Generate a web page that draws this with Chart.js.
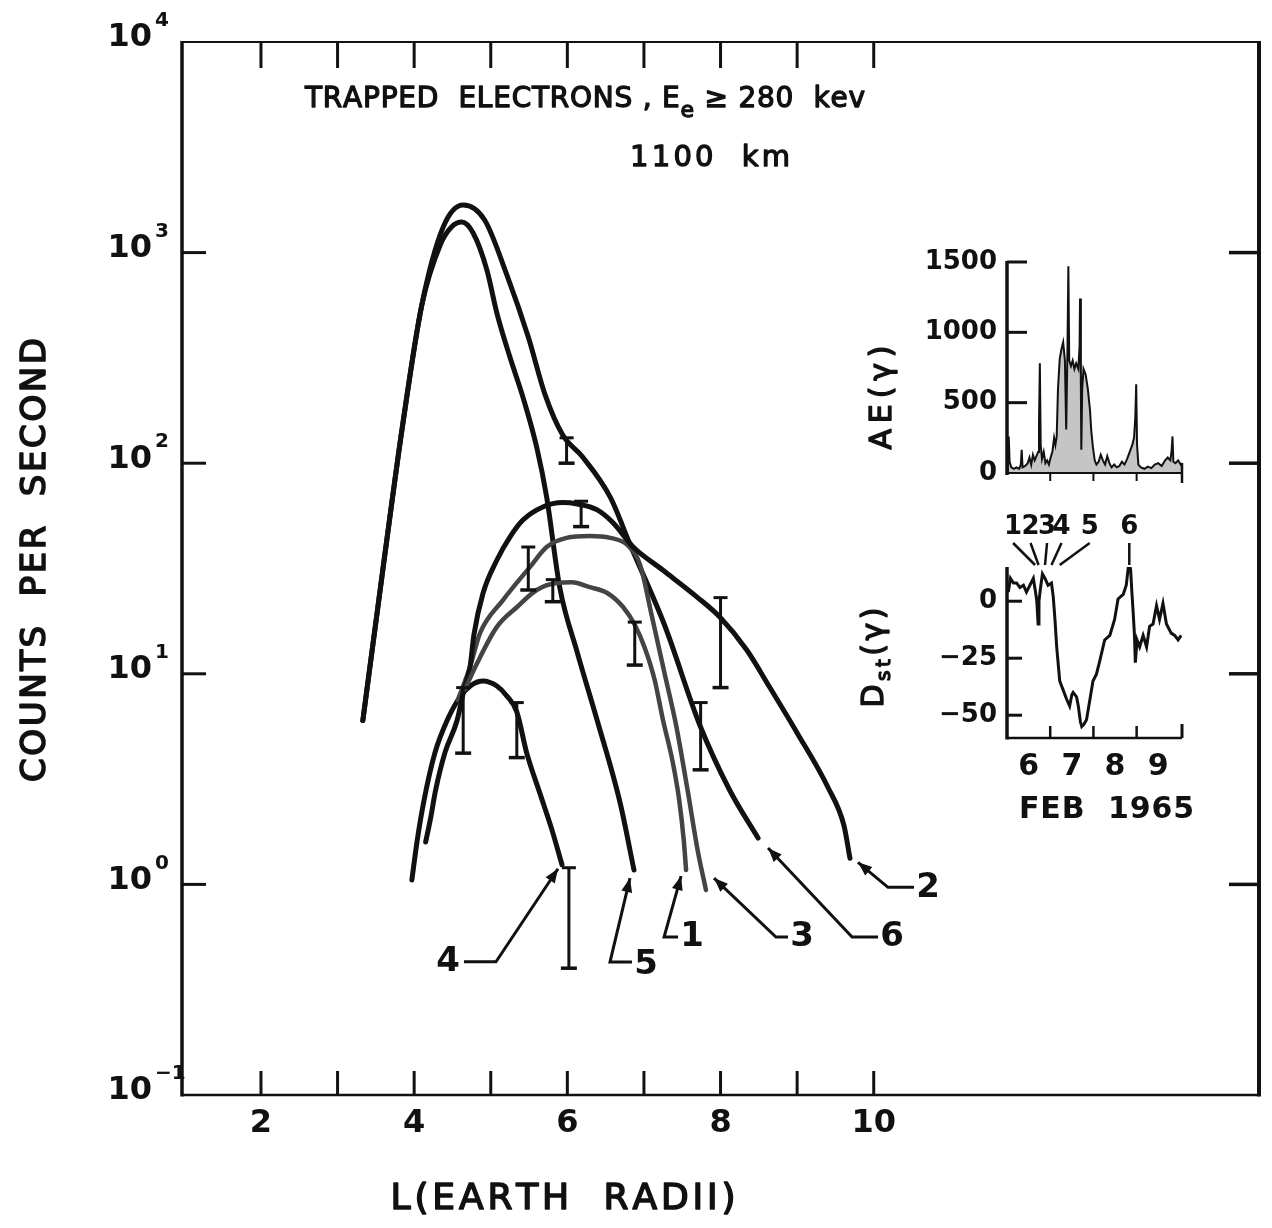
<!DOCTYPE html>
<html lang="en">
<head>
<meta charset="utf-8">
<title>Trapped electrons, 1100 km</title>
<script src="https://cdn.jsdelivr.net/npm/chart.js@4.4.1/dist/chart.umd.min.js"></script>
<style>
  html, body { margin: 0; background: #fff; }
  #wrap { position: relative; width: 1272px; height: 1228px; overflow: hidden; }
  #wrap canvas { position: absolute; }
</style>
</head>
<body>
<div id="wrap">
  <canvas id="main" width="1272" height="1228" style="left:0;top:0"></canvas>
  <canvas id="ae" width="420" height="290" style="left:840px;top:220px"></canvas>
  <canvas id="dst" width="420" height="330" style="left:840px;top:505px"></canvas>
</div>
<script>
const INK = '#111';
const GREY = '#444';
const FONT = '"DejaVu Sans", "Liberation Sans", sans-serif';

// count rate against L, one profile per pass (1..6)
const curve1L = [4.66, 4.82, 5.08, 5.34, 5.60, 5.86, 6.06, 6.29, 6.52, 6.73, 6.88, 7.01, 7.14, 7.25, 7.37, 7.46, 7.52, 7.55];
const curve1Rate = [8.4, 11.2, 16.7, 20.7, 25, 27, 27.2, 25.8, 24.2, 20.7, 17.1, 13.3, 9.35, 6.0, 3.9, 2.52, 1.62, 1.17];

const curve2L = [4.15, 4.21, 4.28, 4.40, 4.56, 4.65, 4.73, 4.78, 4.90, 5.08, 5.25, 5.42, 5.68, 5.94, 6.13, 6.39, 6.60, 6.86, 7.25, 7.69, 7.99, 8.34, 8.64, 9.00, 9.40, 9.61, 9.69];
const curve2Rate = [1.59, 2.02, 2.8, 4.2, 6.0, 8.4, 10.8, 15.3, 24.2, 34.7, 44.6, 53.7, 62, 65, 64, 60, 52, 40, 31, 23.2, 18.6, 13, 8.65, 5.24, 2.9, 1.91, 1.33];

const curve3L = [4.57, 4.73, 4.86, 5.16, 5.51, 5.73, 5.99, 6.29, 6.56, 6.78, 6.95, 7.10, 7.26, 7.42, 7.57, 7.70, 7.81];
const curve3Rate = [7.5, 10.8, 15.6, 22.4, 32.1, 40, 44.2, 45.1, 44.2, 41, 32.9, 19, 10.4, 5.7, 2.8, 1.46, 0.94];

const curve4L = [3.97, 4.04, 4.13, 4.27, 4.43, 4.60, 4.75, 4.90, 5.08, 5.21, 5.34, 5.47, 5.64, 5.80, 5.93];
const curve4Rate = [1.05, 1.62, 2.52, 4.2, 6.0, 7.77, 8.85, 9.25, 8.75, 7.85, 6.6, 4.2, 2.72, 1.81, 1.24];

const curve5L = [3.33, 3.59, 3.85, 4.10, 4.34, 4.49, 4.62, 4.77, 4.95, 5.08, 5.25, 5.42, 5.60, 5.73, 5.90, 6.13, 6.39, 6.69, 6.87];
const curve5Rate = [6.0, 31, 152, 564, 1087, 1325, 1396, 1239, 826, 516, 319, 206, 119, 69, 25.8, 12.6, 6.0, 2.43, 1.17];

const curve6L = [3.33, 3.59, 3.85, 4.10, 4.38, 4.64, 4.92, 5.21, 5.49, 5.71, 5.94, 6.20, 6.56, 6.82, 7.27, 7.73, 8.12, 8.49];
const curve6Rate = [6.0, 31, 152, 564, 1325, 1683, 1428, 783, 397, 211, 136, 107, 69, 41, 17, 5.7, 2.8, 1.66];

const curveL = [curve1L, curve2L, curve3L, curve4L, curve5L, curve6L];
const curveRate = [curve1Rate, curve2Rate, curve3Rate, curve4Rate, curve5Rate, curve6Rate];

// error bars on the profiles
const errL = [5.99, 6.18, 5.49, 6.88, 8.00, 4.64, 5.34, 7.74, 6.02, 5.81];
const errLow = [100, 50, 25, 11, 8.6, 4.2, 4.0, 3.5, 0.4, 22];
const errHigh = [132, 66, 40, 17.6, 23, 8.6, 7.3, 7.3, 1.2, 28];

const lTicks = [2, 3, 4, 5, 6, 7, 8, 9, 10];
const lLabels = [2, 4, 6, 8, 10];
const yTicks = [0.1, 1, 10, 100, 1000, 10000];

// AE index, Feb 6-9 1965 (day of month, gammas)
const aeDay = [6.00, 6.02, 6.04, 6.06, 6.10, 6.16, 6.22, 6.28, 6.32, 6.34, 6.36, 6.42, 6.48, 6.52, 6.56, 6.60, 6.64, 6.68, 6.72, 6.74, 6.76, 6.78, 6.81, 6.85, 6.89, 6.93, 6.97, 7.01, 7.05, 7.09, 7.12, 7.15, 7.18, 7.22, 7.26, 7.30, 7.34, 7.37, 7.40, 7.42, 7.44, 7.48, 7.52, 7.56, 7.60, 7.65, 7.68, 7.69, 7.71, 7.72, 7.74, 7.77, 7.82, 7.87, 7.92, 7.95, 7.99, 8.03, 8.07, 8.12, 8.17, 8.22, 8.27, 8.32, 8.37, 8.42, 8.48, 8.54, 8.60, 8.66, 8.72, 8.78, 8.84, 8.90, 8.94, 8.97, 8.99, 9.01, 9.04, 9.10, 9.18, 9.26, 9.34, 9.42, 9.50, 9.58, 9.66, 9.72, 9.78, 9.81, 9.83, 9.85, 9.90, 9.96, 10.02, 10.05];
const aeValue = [0, 150, 260, 80, 40, 30, 40, 30, 60, 165, 40, 50, 70, 110, 60, 130, 90, 120, 150, 330, 780, 200, 100, 150, 70, 90, 60, 110, 150, 250, 200, 260, 600, 810, 880, 930, 800, 310, 900, 1470, 800, 760, 800, 740, 780, 740, 900, 1240, 600, 165, 600, 740, 700, 600, 450, 300, 180, 90, 60, 80, 130, 90, 60, 120, 70, 40, 60, 40, 50, 80, 60, 100, 150, 200, 250, 400, 630, 200, 60, 40, 30, 45, 35, 60, 70, 50, 90, 110, 90, 160, 260, 80, 70, 90, 60, 70];
const aeTicks = [0, 500, 1000, 1500];

// Dst index over the same interval
const dstDay = [6.03, 6.08, 6.15, 6.22, 6.30, 6.38, 6.45, 6.53, 6.61, 6.66, 6.69, 6.72, 6.74, 6.77, 6.82, 6.88, 6.95, 7.03, 7.07, 7.11, 7.15, 7.22, 7.30, 7.38, 7.45, 7.50, 7.53, 7.61, 7.65, 7.70, 7.73, 7.78, 7.84, 7.92, 7.99, 8.07, 8.15, 8.26, 8.38, 8.49, 8.57, 8.69, 8.76, 8.82, 8.86, 8.89, 8.92, 8.95, 8.97, 9.01, 9.07, 9.15, 9.23, 9.30, 9.38, 9.46, 9.53, 9.61, 9.69, 9.80, 9.88, 9.96, 10.03];
const dstValue = [4, 10, 8, 8, 6, 7, 4, 7, 10, 4, 0, -10, 0, 5, 12, 10, 7, 8, 2, -8, -20, -35, -39, -43, -46, -41, -40, -42, -46, -53, -55, -54, -52, -43, -35, -32, -26, -17, -15, -8, 1, 3, 7, 17, 14, 4, -5, -15, -27, -17, -20, -15, -20, -11, -10, -2, -8, -1, -10, -14, -15, -17, -15];
const dstTicks = [0, -25, -50];

// times of passes 1-6
const passDay = [6.65, 6.73, 6.88, 7.03, 7.22, 8.83];
const passNames = ['1', '2', '3', '4', '5', '6'];

const dayTicks = [7, 8, 9];
const dayLabels = [6, 7, 8, 9];

// curve-end call-outs: pixel offsets from the last point of each curve
const callouts = [
  { text: '1', label: [6, 67], corner: [-22, 67], tip: [-5, 6] },
  { text: '2', label: [78, 30], corner: [38, 29], tip: [8, 4] },
  { text: '3', label: [96, 47], corner: [70, 47], tip: [8, -12] },
  { text: '4', label: [-114, 97], corner: [-66, 97], tip: [-4, 4] },
  { text: '5', label: [12, 95], corner: [-24, 92], tip: [-4, 8] },
  { text: '6', label: [134, 99], corner: [94, 99], tip: [10, 10] }
];
// pass label positions relative to the pass time
const passLabelDx = [-22, -8, 2, 10, 30, 0];

function font(size, bold) {
  return (bold ? 'bold ' : '') + size + 'px ' + FONT;
}

function line(ctx, x1, y1, x2, y2, w) {
  ctx.lineWidth = w;
  ctx.beginPath();
  ctx.moveTo(x1, y1);
  ctx.lineTo(x2, y2);
  ctx.stroke();
}

// letters spread evenly over a given width, centred on (cx, cy);
// weight > 0 thickens the strokes a little
function spacedText(ctx, parts, cx, cy, width, weight) {
  const chars = [];
  parts.forEach(p => {
    ctx.font = p.f;
    for (const ch of p.t) chars.push({ ch, f: p.f, dy: p.dy || 0, w: ctx.measureText(ch).width });
  });
  const natural = chars.reduce((s, c) => s + c.w, 0);
  const gap = chars.length > 1 ? (width - natural) / (chars.length - 1) : 0;
  let x = cx - width / 2;
  ctx.textAlign = 'left';
  ctx.textBaseline = 'middle';
  ctx.lineJoin = 'round';
  chars.forEach(c => {
    ctx.font = c.f;
    ctx.fillText(c.ch, x, cy + c.dy);
    if (weight) {
      ctx.lineWidth = weight;
      ctx.strokeText(c.ch, x, cy + c.dy);
    }
    x += c.w + gap;
  });
}

function arrowHead(ctx, fx, fy, tx, ty) {
  const ang = Math.atan2(ty - fy, tx - fx), len = 14, half = 5.5;
  const bx = tx - len * Math.cos(ang), by = ty - len * Math.sin(ang);
  ctx.beginPath();
  ctx.moveTo(tx, ty);
  ctx.lineTo(bx + half * Math.sin(ang), by - half * Math.cos(ang));
  ctx.lineTo(bx - half * Math.sin(ang), by + half * Math.cos(ang));
  ctx.closePath();
  ctx.fill();
}

const mainDecor = {
  id: 'mainDecor',
  afterDatasetsDraw(chart) {
    const { ctx, chartArea: a } = chart;
    const x = chart.scales.x, y = chart.scales.y;
    ctx.save();
    ctx.strokeStyle = INK;
    ctx.fillStyle = INK;

    // frame
    line(ctx, a.left, a.top, a.right, a.top, 2);
    line(ctx, a.left, a.bottom, a.right, a.bottom, 2.5);
    line(ctx, a.left, a.top - 1, a.left, a.bottom + 1.5, 3.5);
    line(ctx, a.right, a.top - 1, a.right, a.bottom + 1.5, 4);

    // L ticks top and bottom
    lTicks.forEach(v => {
      const px = x.getPixelForValue(v);
      line(ctx, px, a.bottom, px, a.bottom - 24, 3);
      line(ctx, px, a.top, px, a.top + 26, 3);
    });
    // decade ticks on both sides
    yTicks.forEach(v => {
      if (v <= y.min || v >= y.max) return;
      const py = y.getPixelForValue(v);
      line(ctx, a.left, py, a.left + 24, py, 3);
      line(ctx, a.right, py, a.right - 30, py, 3.5);
    });

    // 10^n labels
    ctx.textBaseline = 'middle';
    yTicks.forEach(v => {
      const py = y.getPixelForValue(v);
      const exp = Math.round(Math.log10(v));
      ctx.font = font(32, true);
      ctx.textAlign = 'right';
      ctx.fillText('10', a.left - 30, py - 4);
      ctx.font = font(20, true);
      ctx.textAlign = 'left';
      ctx.fillText(exp < 0 ? '\u2212' + (-exp) : String(exp), a.left - 27, py - 21);
    });
    ctx.font = font(32, true);
    ctx.textAlign = 'center';
    lLabels.forEach(v => ctx.fillText(String(v), x.getPixelForValue(v), a.bottom + 29));

    // error bars
    errL.forEach((L, i) => {
      const px = x.getPixelForValue(L);
      const lo = y.getPixelForValue(errLow[i]);
      const hi = y.getPixelForValue(errHigh[i]);
      line(ctx, px, hi, px, lo, 3);
      line(ctx, px - 7, hi, px + 7, hi, 3);
      line(ctx, px - 8, lo, px + 8, lo, 3.5);
    });

    // curve numbers with leaders
    callouts.forEach((c, i) => {
      const Ls = curveL[i], R = curveRate[i];
      const ex = x.getPixelForValue(Ls[Ls.length - 1]);
      const ey = y.getPixelForValue(R[R.length - 1]);
      const lx = ex + c.label[0], ly = ey + c.label[1];
      const cx = ex + c.corner[0], cy = ey + c.corner[1];
      const tx = ex + c.tip[0], ty = ey + c.tip[1];
      const side = lx > cx ? lx - 14 : lx + 16;
      ctx.lineWidth = 3;
      ctx.beginPath();
      ctx.moveTo(side, cy);
      ctx.lineTo(cx, cy);
      ctx.lineTo(tx, ty);
      ctx.stroke();
      arrowHead(ctx, cx, cy, tx, ty);
      ctx.font = font(34, true);
      ctx.textAlign = 'center';
      ctx.textBaseline = 'middle';
      ctx.fillText(c.text, lx, ly);
    });

    // headings
    spacedText(ctx, [
      { t: 'TRAPPED  ELECTRONS , E', f: font(28) },
      { t: 'e', f: font(22), dy: 11 },
      { t: ' \u2265 280  kev', f: font(28) }
    ], 585, 100, 560, 1.3);
    spacedText(ctx, [{ t: '1100  km', f: font(29) }], 710, 158, 160, 1.3);
    spacedText(ctx, [{ t: 'L(EARTH  RADII)', f: font(36) }], 563, 1200, 345, 1.6);

    ctx.save();
    ctx.translate(36, 560);
    ctx.rotate(-Math.PI / 2);
    spacedText(ctx, [{ t: 'COUNTS  PER  SECOND', f: font(34) }], 0, 0, 444, 1.6);
    ctx.restore();

    ctx.restore();
  }
};

new Chart(document.getElementById('main'), {
  type: 'line',
  data: {
    datasets: curveL.map((Ls, i) => ({
      label: 'Pass ' + (i + 1),
      data: Ls.map((L, j) => ({ x: L, y: curveRate[i][j] })),
      borderColor: (i === 0 || i === 2) ? GREY : INK,
      borderWidth: (i === 0 || i === 2) ? 4.5 : 5,
      borderCapStyle: 'round',
      borderJoinStyle: 'round',
      pointRadius: 0,
      cubicInterpolationMode: 'monotone',
      fill: false
    }))
  },
  options: {
    responsive: false,
    animation: false,
    devicePixelRatio: 1,
    events: [],
    layout: { padding: { left: 182, right: 13, top: 42, bottom: 133 } },
    scales: {
      x: { type: 'linear', min: 0.969, max: 15.03, display: false },
      y: { type: 'logarithmic', min: 0.1, max: 10000, display: false }
    },
    plugins: { legend: { display: false }, tooltip: { enabled: false } }
  },
  plugins: [mainDecor]
});

// AE inset
const aeDecor = {
  id: 'aeDecor',
  afterDatasetsDraw(chart) {
    const { ctx, chartArea: a } = chart;
    const x = chart.scales.x, y = chart.scales.y;
    ctx.save();
    ctx.strokeStyle = INK;
    ctx.fillStyle = INK;
    const y0 = y.getPixelForValue(0);
    line(ctx, a.left, a.top - 1, a.left, y0 + 2, 3.5);
    line(ctx, a.left, y0, a.right, y0, 2);
    aeTicks.forEach(v => {
      const py = y.getPixelForValue(v);
      if (v > 0) line(ctx, a.left, py, a.left + 20, py, 3);
      ctx.font = font(26, true);
      ctx.textAlign = 'right';
      ctx.textBaseline = 'middle';
      ctx.fillText(String(v), a.left - 10, py);
    });
    dayTicks.forEach(d => {
      const px = x.getPixelForValue(d);
      line(ctx, px, y0, px, y0 + 8, 2);
    });
    line(ctx, a.right, y0 - 10, a.right, y0 + 10, 2.5);

    ctx.save();
    ctx.translate(43, (a.top + a.bottom) / 2 + 30);
    ctx.rotate(-Math.PI / 2);
    spacedText(ctx, [{ t: 'AE(\u03b3)', f: font(30) }], 0, 0, 104, 1.4);
    ctx.restore();
    ctx.restore();
  }
};

new Chart(document.getElementById('ae'), {
  type: 'line',
  data: {
    datasets: [{
      label: 'AE',
      data: aeDay.map((d, i) => ({ x: d, y: aeValue[i] })),
      borderColor: INK,
      borderWidth: 2,
      backgroundColor: 'rgba(140,140,140,0.5)',
      fill: 'origin',
      pointRadius: 0,
      tension: 0
    }]
  },
  options: {
    responsive: false,
    animation: false,
    devicePixelRatio: 1,
    events: [],
    layout: { padding: { left: 167, right: 78, top: 42, bottom: 37 } },
    scales: {
      x: { type: 'linear', min: 6, max: 10.05, display: false },
      y: { type: 'linear', min: 0, max: 1500, display: false }
    },
    plugins: { legend: { display: false }, tooltip: { enabled: false } }
  },
  plugins: [aeDecor]
});

// Dst inset
const dstDecor = {
  id: 'dstDecor',
  afterDatasetsDraw(chart) {
    const { ctx, chartArea: a } = chart;
    const x = chart.scales.x, y = chart.scales.y;
    ctx.save();
    ctx.strokeStyle = INK;
    ctx.fillStyle = INK;
    line(ctx, a.left, a.top, a.left, a.bottom + 1.5, 3.5);
    line(ctx, a.left, a.bottom, a.right, a.bottom, 2.5);
    dstTicks.forEach(v => {
      const py = y.getPixelForValue(v);
      line(ctx, a.left, py, a.left + 15, py, 3);
      ctx.font = font(26, true);
      ctx.textAlign = 'right';
      ctx.textBaseline = 'middle';
      ctx.fillText(v < 0 ? '\u2212' + (-v) : String(v), a.left - 10, py);
    });
    dayTicks.forEach(d => {
      const px = x.getPixelForValue(d);
      line(ctx, px, a.bottom, px, a.bottom - 12, 2.5);
    });
    line(ctx, a.right, a.bottom, a.right, a.bottom - 14, 3);

    ctx.font = font(30, true);
    ctx.textAlign = 'center';
    ctx.textBaseline = 'middle';
    dayLabels.forEach(d => ctx.fillText(String(d), x.getPixelForValue(d + 0.5), a.bottom + 29));
    spacedText(ctx, [{ t: 'FEB  1965', f: font(30, true) }], (a.left + a.right) / 2 + 12, a.bottom + 72, 175);

    // pass markers
    passDay.forEach((d, i) => {
      const px = x.getPixelForValue(d);
      const lx = px + passLabelDx[i];
      line(ctx, lx, a.top - 24, px, a.top - 2, 2.5);
      ctx.font = font(26, true);
      ctx.textAlign = 'center';
      ctx.textBaseline = 'middle';
      ctx.fillText(passNames[i], lx, a.top - 40);
    });

    ctx.save();
    ctx.translate(35, (a.top + a.bottom) / 2 + 5);
    ctx.rotate(-Math.PI / 2);
    spacedText(ctx, [
      { t: 'D', f: font(30) },
      { t: 'st', f: font(20), dy: 10 },
      { t: '(\u03b3)', f: font(30) }
    ], 0, 0, 100, 1.4);
    ctx.restore();
    ctx.restore();
  }
};

new Chart(document.getElementById('dst'), {
  type: 'line',
  data: {
    datasets: [{
      label: 'Dst',
      data: dstDay.map((d, i) => ({ x: d, y: dstValue[i] })),
      borderColor: INK,
      borderWidth: 3,
      pointRadius: 0,
      tension: 0,
      fill: false
    }]
  },
  options: {
    responsive: false,
    animation: false,
    devicePixelRatio: 1,
    events: [],
    layout: { padding: { left: 167, right: 78, top: 62, bottom: 97 } },
    scales: {
      x: { type: 'linear', min: 6, max: 10.05, display: false },
      y: { type: 'linear', min: -60, max: 15, display: false }
    },
    plugins: { legend: { display: false }, tooltip: { enabled: false } }
  },
  plugins: [dstDecor]
});
</script>
</body>
</html>
